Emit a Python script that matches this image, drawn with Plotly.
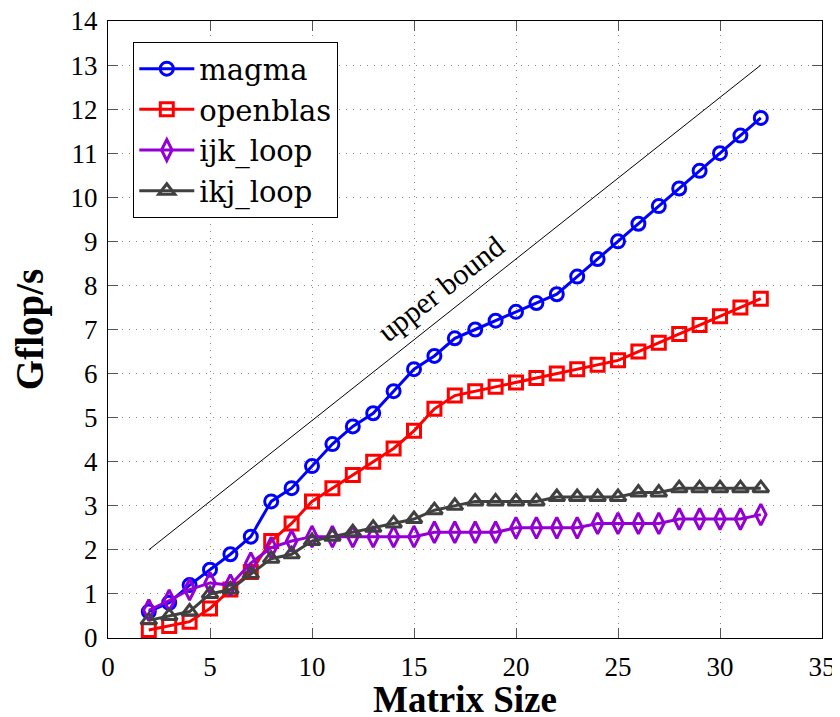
import plotly.graph_objects as go

sizes = list(range(2, 33))
magma = [0.6, 0.8, 1.2, 1.55, 1.9, 2.3, 3.1, 3.4, 3.9, 4.4, 4.8, 5.1, 5.6, 6.1, 6.4, 6.8,
         7.0, 7.2, 7.4, 7.6, 7.8, 8.2, 8.6, 9.0, 9.4, 9.8, 10.2, 10.6, 11.0, 11.4, 11.8]
openblas = [0.18, 0.27, 0.37, 0.67, 1.1, 1.5, 2.2, 2.6, 3.1, 3.4, 3.7, 4.0, 4.3, 4.7, 5.2, 5.5,
            5.6, 5.7, 5.8, 5.9, 6.0, 6.1, 6.2, 6.3, 6.5, 6.7, 6.9, 7.1, 7.3, 7.5, 7.7]
ijk_loop = [0.63, 0.85, 1.1, 1.25, 1.2, 1.7, 2.05, 2.2, 2.3, 2.3, 2.3, 2.3, 2.3, 2.3, 2.4, 2.4,
            2.4, 2.4, 2.5, 2.5, 2.5, 2.5, 2.6, 2.6, 2.6, 2.6, 2.7, 2.7, 2.7, 2.7, 2.8]
ikj_loop = [0.4, 0.5, 0.6, 1.0, 1.1, 1.45, 1.8, 1.9, 2.2, 2.3, 2.4, 2.5, 2.6, 2.7, 2.9, 3.0,
            3.1, 3.1, 3.1, 3.1, 3.2, 3.2, 3.2, 3.2, 3.3, 3.3, 3.4, 3.4, 3.4, 3.4, 3.4]
bound_x = [2, 32]
bound_y = [2, 13]

FONT = "Liberation Serif"
LEGFONT = "DejaVu Serif"

fig = go.Figure()
fig.add_trace(go.Scatter(x=bound_x, y=bound_y, mode="lines", line=dict(color="black", width=1),
                         showlegend=False, hoverinfo="skip"))

series = [
    ("magma", magma, "#0000ff", "circle-open", 13),
    ("openblas", openblas, "#ff0000", "square-open", 13),
    ("ijk_loop", ijk_loop, "#9400d3", "diamond-tall-open", 15),
    ("ikj_loop", ikj_loop, "#404040", "triangle-up-open", 14),
]
for name, ys, col, sym, ms in series:
    fig.add_trace(go.Scatter(
        x=sizes, y=ys, mode="lines+markers", name=name,
        line=dict(color=col, width=3),
        marker=dict(symbol=sym, size=ms, color=col, line=dict(color=col, width=3)),
    ))

fig.add_annotation(x=16.3, y=7.94, text="upper bound", showarrow=False, textangle=-38,
                   font=dict(family=FONT, size=30, color="black"))
# x-axis title placed as paper annotation so it can sit as low as in the reference
fig.add_annotation(x=0.5, y=-0.1, xref="paper", yref="paper", yanchor="middle",
                   text="<b>Matrix Size</b>", showarrow=False,
                   font=dict(family=FONT, size=37, color="black"))

axis_common = dict(
    showline=True, linecolor="black", linewidth=1.3, mirror="ticks",
    ticks="inside", ticklen=10, tickcolor="#555", tickwidth=1,
    showgrid=True, gridcolor="#8a8a8a", griddash="1px,6px", gridwidth=1,
    zeroline=False, tickfont=dict(family=FONT, size=27, color="black"),
    automargin=False, ticklabelstandoff=4, ticklabeloverflow="allow",
)
fig.update_xaxes(range=[0, 35], dtick=5, tick0=0, **axis_common)
fig.update_yaxes(range=[0, 14], dtick=1, tick0=0,
                 title=dict(text="<b>Gflop/s</b>", font=dict(family=FONT, size=39, color="black"),
                            standoff=28),
                 **axis_common)

# the page adds an 8px body margin, so the figure is sized to land on the same pixels
fig.update_layout(
    width=832, height=709,
    margin=dict(l=100, r=18, t=13, b=79),
    plot_bgcolor="white", paper_bgcolor="white",
    font=dict(family=FONT, color="black"),
    legend=dict(x=0.035, y=0.966, xanchor="left", yanchor="top",
                bgcolor="white", bordercolor="black", borderwidth=1.3,
                font=dict(family=LEGFONT, size=29, color="black"),
                tracegroupgap=0, itemwidth=55),
)

fig.write_html("out.html")
